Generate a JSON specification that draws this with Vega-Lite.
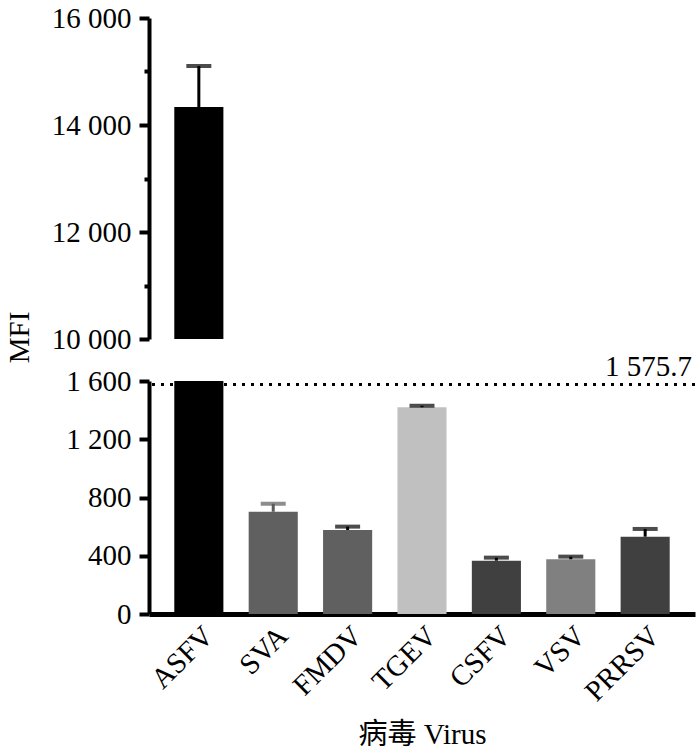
{
  "$schema": "https://vega.github.io/schema/vega-lite/v6.json",
  "background": "white",
  "padding": {"left": 5, "top": 4, "right": 5, "bottom": 5},
  "bounds": "flush",
  "spacing": 42,
  "config": {
    "view": {"stroke": null},
    "font": "Liberation Serif",
    "axis": {"labelFont": "Liberation Serif", "titleFont": "Liberation Serif", "labelColor": "black", "titleColor": "black", "domainColor": "black", "tickColor": "black", "grid": false, "titleFontWeight": "normal"}
  },
  "datasets": {
    "bars": [
      {"virus": "ASFV", "mfi": 14336, "err": 15103},
      {"virus": "SVA", "mfi": 702, "err": 757},
      {"virus": "FMDV", "mfi": 577, "err": 600},
      {"virus": "TGEV", "mfi": 1420, "err": 1430},
      {"virus": "CSFV", "mfi": 366, "err": 387},
      {"virus": "VSV", "mfi": 376, "err": 394},
      {"virus": "PRRSV", "mfi": 531, "err": 584}
    ],
    "cutoff": [{"v": 1575.7, "label": "1 575.7"}]
  },
  "vconcat": [
    {
      "width": 546,
      "height": 321,
      "data": {"name": "bars"},
      "encoding": {
        "x": {"field": "virus", "type": "nominal", "sort": null, "scale": {"paddingInner": 0.34, "paddingOuter": 0.34}, "axis": null}
      },
      "layer": [
        {
          "mark": {"type": "bar", "clip": true},
          "encoding": {
            "y": {"field": "mfi", "type": "quantitative", "scale": {"domain": [10000, 16000], "zero": false, "nice": false},
              "axis": {
                "title": "MFI", "titleFontSize": 29, "titleX": -130, "titleY": 319, "titleAlign": "center", "titleBaseline": "middle", "titleAngle": -90,
                "values": [10000, 11000, 12000, 13000, 14000, 15000, 16000],
                "labelExpr": "datum.value % 2000 === 0 ? replace(format(datum.value, ','), ',', ' ') : ''",
                "tickSize": {"expr": "datum.value % 2000 === 0 ? 10 : 5"},
                "tickWidth": 4, "domainWidth": 4, "labelFontSize": 29, "labelPadding": 8, "labelFlush": false, "labelOverlap": false
              }
            },
            "y2": {"datum": 0},
            "color": {"field": "virus", "type": "nominal", "scale": {"domain": ["ASFV", "SVA", "FMDV", "TGEV", "CSFV", "VSV", "PRRSV"], "range": ["#000000", "#606060", "#606060", "#c0c0c0", "#404040", "#808080", "#404040"]}, "legend": null}
          }
        },
        {
          "mark": {"type": "rule", "clip": true, "strokeWidth": 3},
          "encoding": {
            "y": {"field": "mfi", "type": "quantitative"},
            "y2": {"field": "err"},
            "color": {"condition": {"test": "datum.virus === 'SVA'", "value": "#5c5c5c"}, "value": "black"}
          }
        },
        {
          "mark": {"type": "tick", "clip": true, "thickness": 4, "size": 25},
          "encoding": {
            "y": {"field": "err", "type": "quantitative"},
            "color": {"condition": {"test": "datum.virus === 'SVA'", "value": "#5c5c5c"}, "value": "black"}
          }
        }
      ]
    },
    {
      "width": 546,
      "height": 233,
      "layer": [
        {
          "data": {"name": "bars"},
          "mark": {"type": "bar", "clip": true},
          "encoding": {
            "x": {"field": "virus", "type": "nominal", "sort": null, "scale": {"paddingInner": 0.34, "paddingOuter": 0.34},
              "axis": {"title": "病毒 Virus", "titleFont": "Liberation Serif, Noto Sans CJK SC", "titleFontSize": 29, "titlePadding": 14,
                "labelAngle": -45, "labelAlign": "right", "labelBaseline": "top", "labelFontSize": 29, "labelPadding": 7,
                "ticks": false, "tickSize": 0, "domainWidth": 5}},
            "y": {"field": "mfi", "type": "quantitative", "scale": {"domain": [0, 1600], "nice": false},
              "axis": {"title": null, "values": [0, 400, 800, 1200, 1600],
                "labelExpr": "replace(format(datum.value, ','), ',', ' ')",
                "tickSize": 10, "tickWidth": 4, "domainWidth": 4, "labelFontSize": 29, "labelPadding": 8, "labelFlush": false, "labelOverlap": false}
            },
            "color": {"field": "virus", "type": "nominal", "scale": {"domain": ["ASFV", "SVA", "FMDV", "TGEV", "CSFV", "VSV", "PRRSV"], "range": ["#000000", "#606060", "#606060", "#c0c0c0", "#404040", "#808080", "#404040"]}, "legend": null}
          }
        },
        {
          "data": {"name": "bars"},
          "mark": {"type": "rule", "clip": true, "strokeWidth": 3},
          "encoding": {
            "x": {"field": "virus", "type": "nominal", "sort": null},
            "y": {"field": "mfi", "type": "quantitative"},
            "y2": {"field": "err"},
            "color": {"condition": {"test": "datum.virus === 'SVA'", "value": "#5c5c5c"}, "value": "black"}
          }
        },
        {
          "data": {"name": "bars"},
          "mark": {"type": "tick", "clip": true, "thickness": 4, "size": 25},
          "encoding": {
            "x": {"field": "virus", "type": "nominal", "sort": null},
            "y": {"field": "err", "type": "quantitative"},
            "color": {"condition": {"test": "datum.virus === 'SVA'", "value": "#5c5c5c"}, "value": "black"}
          }
        },
        {
          "data": {"name": "cutoff"},
          "mark": {"type": "rule", "strokeWidth": 3, "strokeDash": [3, 6], "color": "black"},
          "encoding": {"y": {"field": "v", "type": "quantitative"}}
        },
        {
          "data": {"name": "cutoff"},
          "mark": {"type": "text", "x": "width", "align": "right", "baseline": "alphabetic", "dx": -3, "dy": -9, "fontSize": 29, "font": "Liberation Serif", "color": "black"},
          "encoding": {"y": {"field": "v", "type": "quantitative"}, "text": {"field": "label"}}
        }
      ]
    }
  ]
}
